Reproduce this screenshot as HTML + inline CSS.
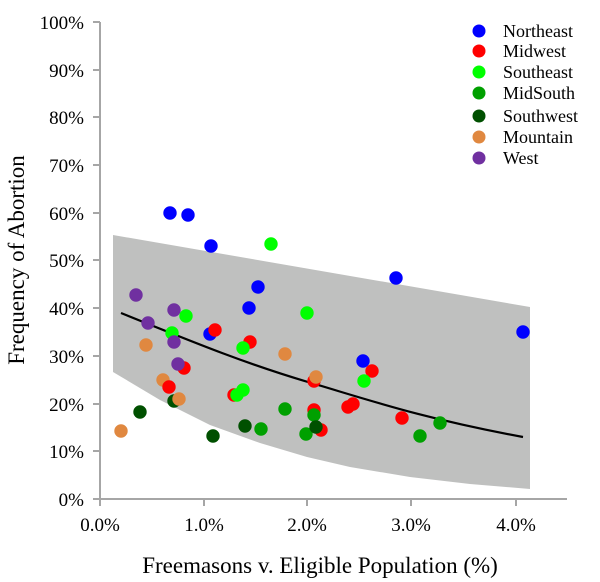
<!DOCTYPE html>
<html><head><style>body{margin:0;background:#fff}svg{display:block;font-family:"Liberation Serif",serif}</style></head><body>
<svg width="600" height="582" xmlns="http://www.w3.org/2000/svg" font-family="'Liberation Serif', serif">
<polygon fill="#bfc0bf" points="113,235 530,307 530,489 470,484 410,477 350,467 307,457 260,443 210,425 160,400 113,372"/>
<path d="M121,313 C200,345 250,365 308,382 S420,418 523,437" fill="none" stroke="#000" stroke-width="2.2"/>
<g stroke="#a6a6a6" stroke-width="2" fill="none">
<path d="M100,22 V499 H567"/>
<path d="M93,22H100M93,70H100M93,117H100M93,165H100M93,213H100M93,260H100M93,308H100M93,356H100M93,404H100M93,451H100M93,499H100"/>
<path d="M100,499V506M204,499V506M307,499V506M411,499V506M516,499V506"/>
</g>
<g font-size="19" text-anchor="end" fill="#000">
<text x="84" y="29">100%</text><text x="84" y="77">90%</text><text x="84" y="124">80%</text><text x="84" y="172">70%</text><text x="84" y="220">60%</text><text x="84" y="267">50%</text><text x="84" y="315">40%</text><text x="84" y="363">30%</text><text x="84" y="411">20%</text><text x="84" y="458">10%</text><text x="84" y="506">0%</text>
</g>
<g font-size="19" text-anchor="middle">
<text x="100" y="531">0.0%</text><text x="204" y="531">1.0%</text><text x="307" y="531">2.0%</text><text x="411" y="531">3.0%</text><text x="516" y="531">4.0%</text>
</g>
<text x="320" y="573" font-size="23" text-anchor="middle">Freemasons v. Eligible Population (%)</text>
<text transform="translate(24,260) rotate(-90)" font-size="23" text-anchor="middle">Frequency of Abortion</text>
<g>
<circle cx="170" cy="213" r="6.7" fill="#0000ff"/>
<circle cx="188" cy="215" r="6.7" fill="#0000ff"/>
<circle cx="211" cy="246" r="6.7" fill="#0000ff"/>
<circle cx="271" cy="244" r="6.7" fill="#00ff00"/>
<circle cx="258" cy="287" r="6.7" fill="#0000ff"/>
<circle cx="249" cy="308" r="6.7" fill="#0000ff"/>
<circle cx="136" cy="295" r="6.7" fill="#7030a0"/>
<circle cx="174" cy="310" r="6.7" fill="#7030a0"/>
<circle cx="186" cy="316" r="6.7" fill="#00ff00"/>
<circle cx="148" cy="323" r="6.7" fill="#7030a0"/>
<circle cx="172" cy="333" r="6.7" fill="#00ff00"/>
<circle cx="210" cy="334" r="6.7" fill="#0000ff"/>
<circle cx="215" cy="330" r="6.7" fill="#ff0000"/>
<circle cx="174" cy="342" r="6.7" fill="#7030a0"/>
<circle cx="146" cy="345" r="6.7" fill="#e08840"/>
<circle cx="250" cy="342" r="6.7" fill="#ff0000"/>
<circle cx="243" cy="348" r="6.7" fill="#00ff00"/>
<circle cx="307" cy="313" r="6.7" fill="#00ff00"/>
<circle cx="285" cy="354" r="6.7" fill="#e08840"/>
<circle cx="184" cy="368" r="6.7" fill="#ff0000"/>
<circle cx="178" cy="364" r="6.7" fill="#7030a0"/>
<circle cx="163" cy="380" r="6.7" fill="#e08840"/>
<circle cx="169" cy="387" r="6.7" fill="#ff0000"/>
<circle cx="174" cy="401" r="6.7" fill="#005000"/>
<circle cx="179" cy="399" r="6.7" fill="#e08840"/>
<circle cx="234" cy="395" r="6.7" fill="#ff0000"/>
<circle cx="243" cy="390" r="6.7" fill="#00ff00"/>
<circle cx="237" cy="395" r="6.7" fill="#00ff00"/>
<circle cx="140" cy="412" r="6.7" fill="#005000"/>
<circle cx="121" cy="431" r="6.7" fill="#e08840"/>
<circle cx="213" cy="436" r="6.7" fill="#005000"/>
<circle cx="245" cy="426" r="6.7" fill="#005000"/>
<circle cx="261" cy="429" r="6.7" fill="#00a000"/>
<circle cx="285" cy="409" r="6.7" fill="#00a000"/>
<circle cx="306" cy="434" r="6.7" fill="#00a000"/>
<circle cx="396" cy="278" r="6.7" fill="#0000ff"/>
<circle cx="523" cy="332" r="6.7" fill="#0000ff"/>
<circle cx="363" cy="361" r="6.7" fill="#0000ff"/>
<circle cx="372" cy="371" r="6.7" fill="#ff0000"/>
<circle cx="364" cy="381" r="6.7" fill="#00ff00"/>
<circle cx="314" cy="381" r="6.7" fill="#ff0000"/>
<circle cx="316" cy="377" r="6.7" fill="#e08840"/>
<circle cx="348" cy="407" r="6.7" fill="#ff0000"/>
<circle cx="353" cy="404" r="6.7" fill="#ff0000"/>
<circle cx="402" cy="418" r="6.7" fill="#ff0000"/>
<circle cx="440" cy="423" r="6.7" fill="#00a000"/>
<circle cx="420" cy="436" r="6.7" fill="#00a000"/>
<circle cx="314" cy="410" r="6.7" fill="#ff0000"/>
<circle cx="321" cy="430" r="6.7" fill="#ff0000"/>
<circle cx="314" cy="415" r="6.7" fill="#00a000"/>
<circle cx="316" cy="427" r="6.7" fill="#005000"/>
</g>
<g font-size="18">
<circle cx="479" cy="31" r="6.5" fill="#0000ff"/><text x="503" y="37">Northeast</text>
<circle cx="479" cy="51" r="6.5" fill="#ff0000"/><text x="503" y="57">Midwest</text>
<circle cx="479" cy="72" r="6.5" fill="#00ff00"/><text x="503" y="78">Southeast</text>
<circle cx="479" cy="93" r="6.5" fill="#00a000"/><text x="503" y="99">MidSouth</text>
<circle cx="479" cy="116" r="6.5" fill="#005000"/><text x="503" y="122">Southwest</text>
<circle cx="479" cy="137" r="6.5" fill="#e08840"/><text x="503" y="143">Mountain</text>
<circle cx="479" cy="158" r="6.5" fill="#7030a0"/><text x="503" y="164">West</text>
</g>
</svg>
</body></html>
